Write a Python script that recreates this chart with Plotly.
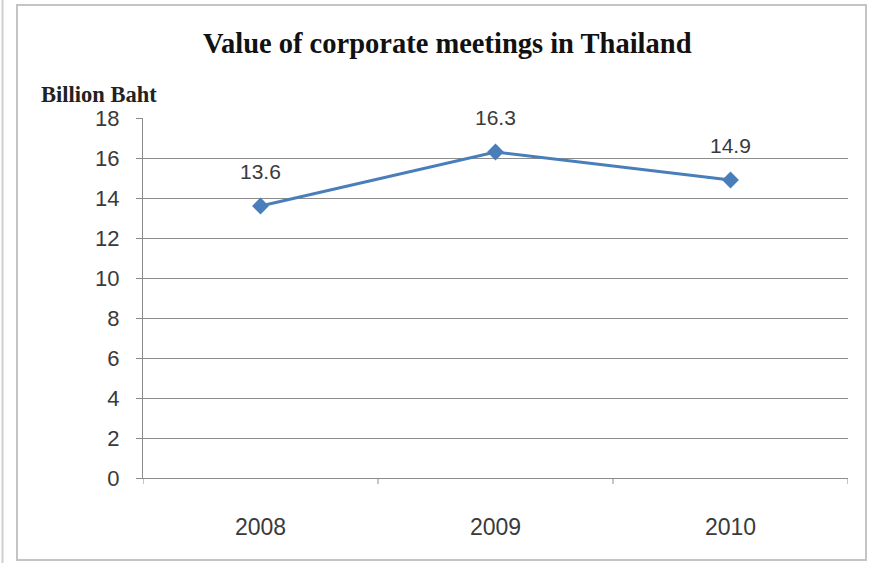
import plotly.graph_objects as go

# Chart data
years = ["2008", "2009", "2010"]
values = [13.6, 16.3, 14.9]
y_ticks = [0, 2, 4, 6, 8, 10, 12, 14, 16, 18]

W, H = 878, 563
L, R, T, B = 143, 30, 118, 85
PW, PH = W - L - R, H - T - B

LINE_BLUE = "#4a7ebb"
GRID = "#8c8c8c"
TEXT = "#3a3a3a"
SANS = "Liberation Sans, Arial, sans-serif"
SERIF = "Liberation Serif, Times New Roman, serif"


def px_x(px):
    return (px - L) / PW


def px_y(py):
    return (H - B - py) / PH


xs = list(range(len(years)))

fig = go.Figure()
fig.add_trace(go.Scatter(
    x=xs, y=values, mode="lines+markers",
    line=dict(color=LINE_BLUE, width=3),
    marker=dict(symbol="diamond", size=13, color=LINE_BLUE),
    hoverinfo="skip", showlegend=False,
))

# value labels above each point
for xi, v in zip(xs, values):
    fig.add_annotation(x=xi, y=v, text=f"{v}", showarrow=False,
                       yanchor="middle", yshift=35,
                       font=dict(family=SANS, size=21, color=TEXT))

fig.add_annotation(xref="paper", yref="paper", x=px_x(447), y=px_y(43),
                   text="<b>Value of corporate meetings in Thailand</b>",
                   showarrow=False, xanchor="center", yanchor="middle",
                   font=dict(family=SERIF, size=28.5, color="#111111"))
fig.add_annotation(xref="paper", yref="paper", x=px_x(39), y=px_y(94),
                   text="<b>Billion Baht</b>", showarrow=False,
                   xanchor="left", yanchor="middle",
                   font=dict(family=SERIF, size=22.5, color="#222222"))

# chart frame and page edge
fig.add_shape(type="rect", xref="paper", yref="paper",
              x0=px_x(17), x1=px_x(866), y0=px_y(560), y1=px_y(5),
              line=dict(color="#c4c4c4", width=2), layer="below")
fig.add_shape(type="line", xref="paper", yref="paper",
              x0=px_x(2.5), x1=px_x(2.5), y0=px_y(563), y1=px_y(0),
              line=dict(color="#cfcfcf", width=2), layer="below")

fig.update_layout(
    width=W, height=H,
    margin=dict(l=L, r=R, t=T, b=B, pad=0),
    paper_bgcolor="white", plot_bgcolor="white",
    xaxis=dict(
        tickmode="array", tickvals=xs, ticktext=years,
        range=[-0.5, len(years) - 0.5],
        showgrid=False, zeroline=False,
        showline=True, linecolor=GRID, linewidth=1,
        ticks="",
        tickfont=dict(family=SANS, size=23, color=TEXT),
        ticklabelstandoff=28, fixedrange=True,
    ),
    yaxis=dict(
        range=[0, 18], tickvals=y_ticks,
        showgrid=True, gridcolor=GRID, gridwidth=1,
        zeroline=False, showline=True, linecolor=GRID, linewidth=1,
        ticks="outside", ticklen=6, tickcolor=GRID,
        tickfont=dict(family=SANS, size=22, color=TEXT),
        ticklabelstandoff=12, fixedrange=True,
    ),
)

# boundary tick marks between categories on the x axis
for b in [-0.5, 0.5, 1.5, 2.5]:
    fig.add_shape(type="line", xref="x", yref="paper", x0=b, x1=b,
                  y0=-6 / PH, y1=0, line=dict(color=GRID, width=1))

fig.write_html("out.html")
